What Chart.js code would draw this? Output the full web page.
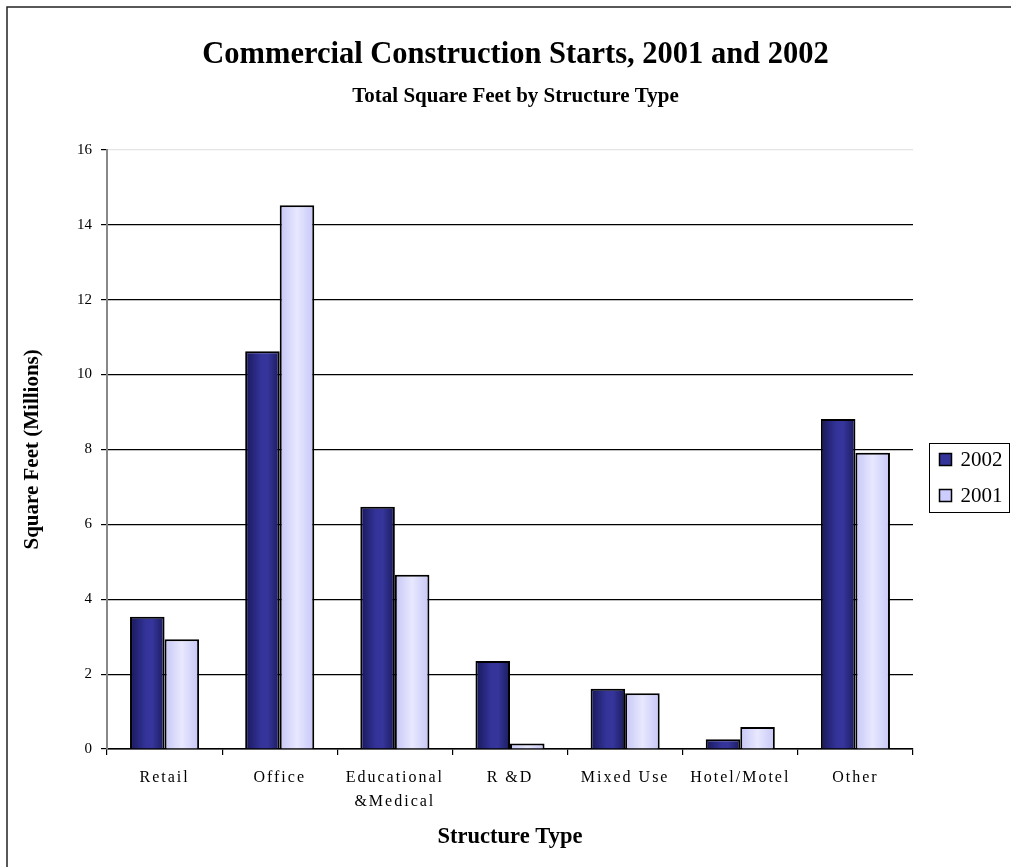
<!DOCTYPE html>
<html>
<head>
<meta charset="utf-8">
<title>Commercial Construction Starts, 2001 and 2002</title>
<script src="https://cdn.jsdelivr.net/npm/chart.js@4.4.0/dist/chart.umd.min.js"></script>
<style>
  html, body { margin: 0; padding: 0; background: #fff; }
  #wrap { width: 1011px; height: 867px; position: relative; }
</style>
</head>
<body>
<div id="wrap"><canvas id="chart"></canvas></div>
<script>
// 構造種別ごとの着工面積（百万平方フィート）
const categories = ['Retail', 'Office', ['Educational', '&Medical'], 'R &D', 'Mixed Use', 'Hotel/Motel', 'Other'];
const seriesLabels = ['2002', '2001'];
const values2002 = [3.53, 10.62, 6.47, 2.35, 1.61, 0.26, 8.81];
const values2001 = [2.93, 14.52, 4.65, 0.15, 1.49, 0.59, 7.91];
const yMin = 0;
const yMax = 16;
const yStep = 2;

// 棒の横方向グラデーション（端が濃く中央が明るい）
const darkShade = [[0, '#18185a'], [0.45, '#333399'], [0.65, '#35359c'], [1, '#1b1b5c']];
const lightShade = [[0, '#c6c6f6'], [0.5, '#e8e8ff'], [1, '#c6c6f6']];
const serif = '"Liberation Serif", "Times New Roman", serif';

// 外枠の線（上と左）
const framePlugin = {
  id: 'frame',
  beforeDraw(chart) {
    const ctx = chart.ctx;
    ctx.save();
    ctx.fillStyle = '#fff';
    ctx.fillRect(0, 0, chart.width, chart.height);
    ctx.strokeStyle = '#222';
    ctx.lineWidth = 1.5;
    ctx.beginPath();
    ctx.moveTo(chart.width, 7);
    ctx.lineTo(7, 7);
    ctx.lineTo(7, chart.height);
    ctx.stroke();
    ctx.restore();

    // 横軸ラベルは字間を広げて描く
    const xs = chart.scales.x;
    if (!xs.spacedLabels) {
      const draw = xs.drawLabels.bind(xs);
      xs.drawLabels = (area) => {
        chart.ctx.save();
        chart.ctx.letterSpacing = '2px';
        draw(area);
        chart.ctx.restore();
      };
      xs.spacedLabels = true;
    }
  }
};

// 棒ごとにグラデーションを作る
const shadePlugin = {
  id: 'barShade',
  beforeDatasetsDraw(chart) {
    const ctx = chart.ctx;
    const shades = [darkShade, lightShade];
    chart.data.datasets.forEach((ds, i) => {
      const meta = chart.getDatasetMeta(i);
      meta.data.forEach(bar => {
        const half = bar.width / 2;
        const g = ctx.createLinearGradient(bar.x - half, 0, bar.x + half, 0);
        shades[i].forEach(([stop, color]) => g.addColorStop(stop, color));
        bar.options = Object.assign({}, bar.options, { backgroundColor: g });
      });
    });
  }
};

// 凡例（枠付き）
const legendPlugin = {
  id: 'boxLegend',
  afterDraw(chart) {
    const ctx = chart.ctx;
    const area = chart.chartArea;
    const left = area.right + 16.5;
    const top = 443.5;
    ctx.save();
    ctx.fillStyle = '#fff';
    ctx.strokeStyle = '#000';
    ctx.lineWidth = 1;
    ctx.fillRect(left, top, 80, 69);
    ctx.strokeRect(left, top, 80, 69);
    ctx.font = '21px ' + serif;
    ctx.textBaseline = 'middle';
    chart.data.datasets.forEach((ds, i) => {
      const cy = top + 16 + i * 36;
      ctx.fillStyle = ds.backgroundColor;
      ctx.fillRect(left + 10, cy - 6, 12, 12);
      ctx.lineWidth = 1.5;
      ctx.strokeRect(left + 10, cy - 6, 12, 12);
      ctx.fillStyle = '#000';
      ctx.fillText(ds.label, left + 31, cy + 1);
    });
    ctx.restore();
  }
};

new Chart(document.getElementById('chart'), {
  type: 'bar',
  data: {
    labels: categories,
    datasets: [
      {
        label: seriesLabels[0],
        data: values2002,
        backgroundColor: '#333399',
        borderColor: '#000',
        borderWidth: 2,
        categoryPercentage: 0.6,
        barPercentage: 1.0
      },
      {
        label: seriesLabels[1],
        data: values2001,
        backgroundColor: '#ccccff',
        borderColor: '#000',
        borderWidth: 2,
        categoryPercentage: 0.6,
        barPercentage: 1.0
      }
    ]
  },
  options: {
    responsive: true,
    maintainAspectRatio: false,
    animation: false,
    layout: { padding: { top: 0, left: 20, right: 0, bottom: 7 } },
    plugins: {
      legend: { display: false },
      tooltip: { enabled: false },
      title: {
        display: true,
        text: 'Commercial Construction Starts, 2001 and 2002',
        color: '#000',
        font: { family: serif, size: 30.5, weight: 'bold', lineHeight: 1.2 },
        padding: { top: 37, bottom: 10 }
      },
      subtitle: {
        display: true,
        text: 'Total Square Feet by Structure Type',
        color: '#000',
        font: { family: serif, size: 21, weight: 'bold', lineHeight: 1.2 },
        padding: { top: 0, bottom: 41 }
      }
    },
    scales: {
      x: {
        grid: {
          offset: true,
          drawOnChartArea: false,
          drawTicks: true,
          tickLength: 6,
          color: '#000',
          lineWidth: 1.2
        },
        border: { display: true, color: '#000', width: 1.5 },
        ticks: {
          color: '#000',
          padding: 11,
          maxRotation: 0,
          autoSkip: false,
          font: { family: serif, size: 16, lineHeight: 1.5 }
        },
        title: {
          display: true,
          text: 'Structure Type',
          color: '#000',
          font: { family: serif, size: 22.5, weight: 'bold', lineHeight: 1.2 },
          padding: { top: 0, bottom: 9 }
        },
        afterFit(scale) { scale.height = 111; }
      },
      y: {
        min: yMin,
        max: yMax,
        ticks: {
          stepSize: yStep,
          color: '#000',
          padding: 9,
          font: { family: serif, size: 15 }
        },
        grid: {
          color: (c) => (c.tick && c.tick.value === yMax ? '#e4e4e4' : '#000'),
          tickColor: '#000',
          tickLength: 6,
          lineWidth: 1.2
        },
        border: { display: true, color: '#888', width: 2 },
        title: {
          display: true,
          text: 'Square Feet (Millions)',
          color: '#000',
          font: { family: serif, size: 21, weight: 'bold', lineHeight: 1.2 },
          padding: { top: 0, bottom: 0 }
        },
        afterFit(scale) { scale.width = 87; }
      },
      // 右側の凡例スペース確保用
      side: {
        position: 'right',
        display: true,
        ticks: { display: false },
        grid: { display: false },
        border: { display: false },
        afterFit(scale) { scale.width = 98; }
      }
    }
  },
  plugins: [framePlugin, shadePlugin, legendPlugin]
});
</script>
</body>
</html>
